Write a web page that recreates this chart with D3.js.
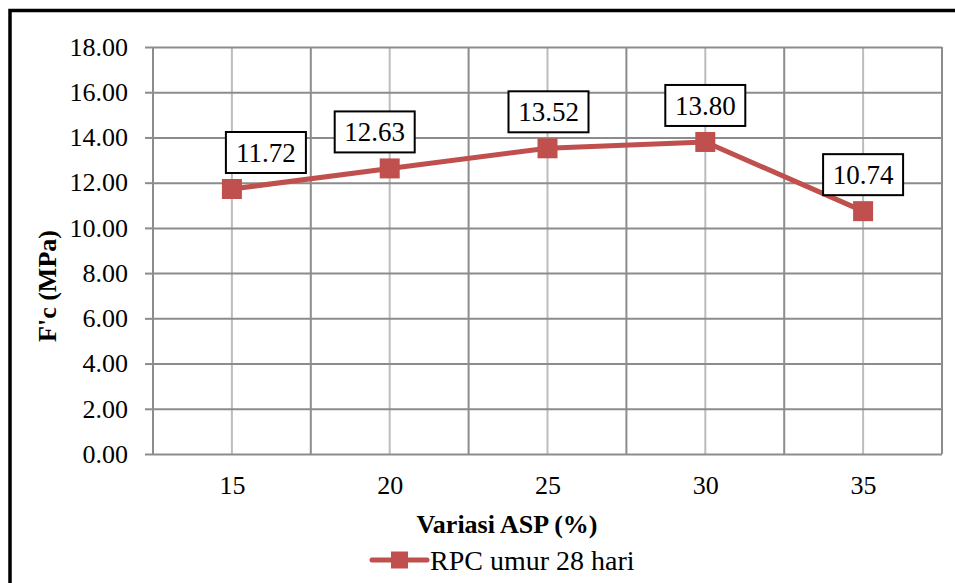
<!DOCTYPE html>
<html>
<head>
<meta charset="utf-8">
<script src="https://cdn.jsdelivr.net/npm/d3@7"></script>
<style>
  body { margin: 0; background: #fff; }
</style>
</head>
<body>
<svg id="chart" width="955" height="583"></svg>
<script>
let categories = ["15", "20", "25", "30", "35"];
let values = [11.72, 12.63, 13.52, 13.80, 10.74];
let yTicks = [0, 2, 4, 6, 8, 10, 12, 14, 16, 18];
let seriesName = "RPC umur 28 hari";

// label boxes sit where Excel put them, a little off-centre for the first two
let labelShift = [34, -15, 1, 0, 0];

const width = 955, height = 583;
const margin = {top: 47, right: 13, bottom: 129, left: 153};
const red = "#c0504d";

// pick the first serif face that is actually installed
function pickFont(list) {
  let ctx = document.createElement("canvas").getContext("2d");
  let probe = "RPC umur 28 hari F'c (MPa) 18.00";
  ctx.font = "40px monospace";
  let base = ctx.measureText(probe).width;
  for (let f of list) {
    ctx.font = `40px "${f}", monospace`;
    if (Math.abs(ctx.measureText(probe).width - base) > 0.5) return f;
  }
  return "serif";
}
const serif = pickFont(["Liberation Serif", "Tinos", "Times New Roman", "Times", "Nimbus Roman", "Nimbus Roman No9 L", "FreeSerif", "DejaVu Serif", "Noto Serif"]);
const fontFamily = `"${serif}", serif`;

let svg = d3.select("#chart")
    .style("font-family", fontFamily);

// outer frame (left + top only visible)
svg.append("path")
    .attr("d", "M10,583 L10,10.5 L955,10.5")
    .attr("fill", "none")
    .attr("stroke", "#000")
    .attr("stroke-width", 3.5);

let x = d3.scalePoint()
    .domain(categories)
    .range([margin.left, width - margin.right])
    .padding(0.5);

let y = d3.scaleLinear()
    .domain([0, 18])
    .range([height - margin.bottom, margin.top]);

let step = x.step();

// vertical gridlines: category centres (light) and band edges (darker)
svg.append("g")
  .selectAll("line")
  .data(categories)
  .join("line")
    .attr("x1", d => x(d)).attr("x2", d => x(d))
    .attr("y1", y(18)).attr("y2", y(0))
    .attr("stroke", "#bdbdbd")
    .attr("stroke-width", 2);

svg.append("g")
  .selectAll("line")
  .data(d3.range(categories.length + 1))
  .join("line")
    .attr("x1", i => margin.left + i * step).attr("x2", i => margin.left + i * step)
    .attr("y1", y(18)).attr("y2", y(0))
    .attr("stroke", "#8c8c8c")
    .attr("stroke-width", 2);

let yAxis = g => g
    .attr("transform", `translate(${margin.left}, 0)`)
    .call(d3.axisLeft(y)
            .tickValues(yTicks)
            .tickFormat(d3.format(".2f"))
            .tickSize(8)
            .tickPadding(17))
    .attr("font-family", fontFamily)
    .attr("font-size", 26)
    .call(g => g.select(".domain").remove())
    .call(g => g.selectAll(".tick line").clone()
              .attr("x1", 0)
              .attr("x2", width - margin.right - margin.left))
    .call(g => g.selectAll(".tick line")
              .attr("stroke", "#8c8c8c")
              .attr("stroke-width", 2));

let xAxis = g => g
    .attr("transform", `translate(0, ${height - margin.bottom})`)
    .call(d3.axisBottom(x).tickSize(0).tickPadding(22))
    .attr("font-family", fontFamily)
    .attr("font-size", 26)
    .call(g => g.select(".domain").remove());

svg.append("g").call(yAxis);
svg.append("g").call(xAxis);

// series line
let line = d3.line()
    .x((d, i) => x(categories[i]))
    .y(d => y(d));

svg.append("path")
    .datum(values)
    .attr("d", line)
    .attr("fill", "none")
    .attr("stroke", red)
    .attr("stroke-width", 5)
    .attr("stroke-linejoin", "round");

svg.append("g")
  .selectAll("rect")
  .data(values)
  .join("rect")
    .attr("x", (d, i) => x(categories[i]) - 10)
    .attr("y", d => y(d) - 10)
    .attr("width", 20)
    .attr("height", 20)
    .attr("fill", red);

// data labels with boxes
let labels = svg.append("g")
  .selectAll("g")
  .data(values)
  .join("g")
    .attr("transform", (d, i) => `translate(${x(categories[i]) + labelShift[i]}, ${y(d) - 16})`);

labels.append("rect")
    .attr("x", -40)
    .attr("y", -41)
    .attr("width", 80)
    .attr("height", 41)
    .attr("fill", "#fff")
    .attr("stroke", "#000")
    .attr("stroke-width", 2);

labels.append("text")
    .attr("text-anchor", "middle")
    .attr("y", -11)
    .attr("font-size", 27)
    .text(d => d.toFixed(2));

// axis titles
svg.append("text")
    .attr("x", 507)
    .attr("y", 533)
    .attr("text-anchor", "middle")
    .attr("font-size", 26)
    .attr("font-weight", "bold")
    .text("Variasi ASP (%)");

svg.append("text")
    .attr("transform", "translate(56, 286) rotate(-90)")
    .attr("text-anchor", "middle")
    .attr("font-size", 26)
    .attr("font-weight", "bold")
    .text("F'c (MPa)");

// legend
let legend = svg.append("g")
    .attr("transform", "translate(372, 560)");

legend.append("line")
    .attr("x1", 0).attr("x2", 55)
    .attr("stroke", red)
    .attr("stroke-width", 5)
    .attr("stroke-linecap", "round");

legend.append("rect")
    .attr("x", 19).attr("y", -8.5)
    .attr("width", 17).attr("height", 17)
    .attr("fill", red);

legend.append("text")
    .attr("x", 58)
    .attr("y", 10)
    .attr("font-size", 28)
    .text(seriesName);
</script>
</body>
</html>
